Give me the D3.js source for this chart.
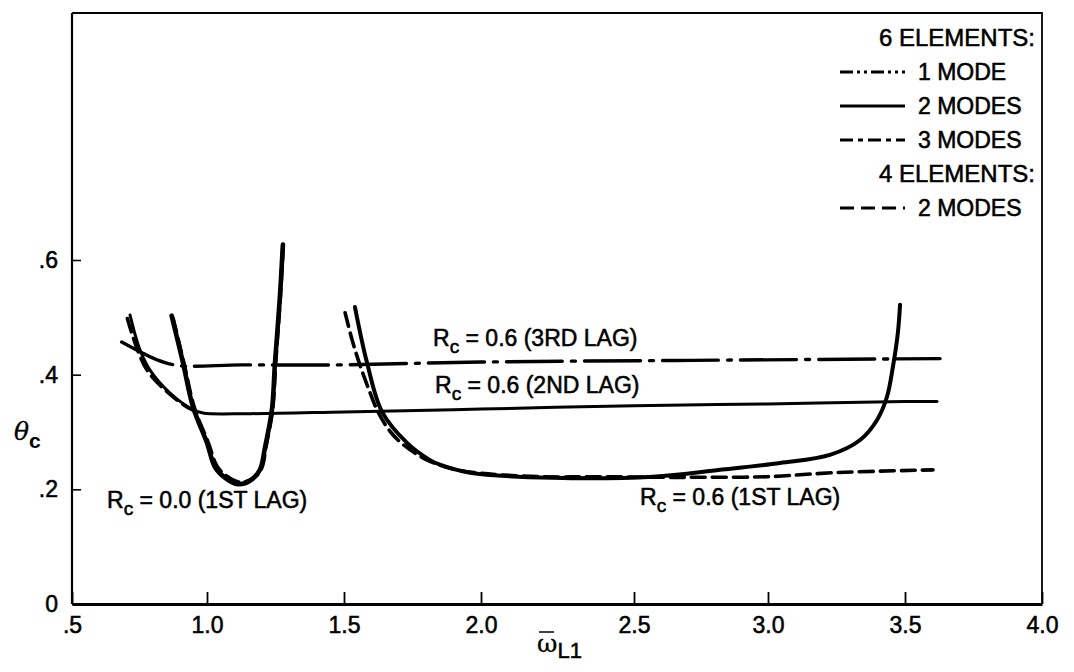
<!DOCTYPE html>
<html>
<head>
<meta charset="utf-8">
<script src="https://cdn.jsdelivr.net/npm/d3@7"></script>
<style>
  body { margin: 0; background: #fff; }
  text { font-family: "Liberation Sans", Arial, Helvetica, sans-serif; fill: #000; stroke: #000; stroke-width: 0.55px; }
</style>
</head>
<body>
<svg id="chart"></svg>
<script>
// Axis ticks and labels
const xTicks = [0.5, 1.0, 1.5, 2.0, 2.5, 3.0, 3.5, 4.0];
const xTickLabels = [".5", "1.0", "1.5", "2.0", "2.5", "3.0", "3.5", "4.0"];
const yTicks = [0, 0.2, 0.4, 0.6];
const yTickLabels = ["0", ".2", ".4", ".6"];

// R_c = 0.0 (1st lag), 6 elements, 2 modes
const r0Lag1X = [0.869, 0.911, 0.948, 1.0, 1.029, 1.066, 1.113, 1.157, 1.193, 1.212, 1.237, 1.248, 1.266, 1.277];
const r0Lag1Y = [0.503, 0.421, 0.344, 0.281, 0.239, 0.220, 0.209, 0.215, 0.234, 0.274, 0.339, 0.420, 0.535, 0.627];
// R_c = 0.0 (1st lag), 4 elements, 2 modes
const r0Lag1E4X = [0.874, 0.915, 0.953, 1.005, 1.036, 1.074, 1.12, 1.165, 1.198, 1.215, 1.239, 1.250, 1.267, 1.277];
const r0Lag1E4Y = [0.498, 0.418, 0.342, 0.280, 0.240, 0.222, 0.212, 0.218, 0.236, 0.275, 0.340, 0.420, 0.535, 0.620];

// R_c = 0.6 (2nd lag), 6 elements, 2 modes
const r6Lag2X = [0.715, 0.752, 0.789, 0.863, 0.948, 0.985, 1.157, 1.5, 2.0, 2.5, 3.0, 3.5, 3.617];
const r6Lag2Y = [0.504, 0.443, 0.408, 0.368, 0.339, 0.333, 0.332, 0.335, 0.340, 0.346, 0.349, 0.353, 0.353];
// R_c = 0.6 (2nd lag), 4 elements, 2 modes
const r6Lag2E4X = [0.705, 0.742, 0.782, 0.855, 0.935, 0.98];
const r6Lag2E4Y = [0.498, 0.444, 0.405, 0.369, 0.341, 0.334];

// R_c = 0.6 (3rd lag), 6 elements, 3 modes
const r6Lag3X = [0.684, 0.752, 0.814, 0.893, 1.126, 1.46, 2.0, 2.72, 3.628];
const r6Lag3Y = [0.457, 0.440, 0.426, 0.416, 0.417, 0.417, 0.422, 0.425, 0.428];

// R_c = 0.6 (1st lag), 6 elements, 2 modes
const r6Lag1X = [1.540, 1.584, 1.639, 1.730, 1.814, 1.850, 1.960, 2.235, 2.571, 2.821, 3.044, 3.226, 3.336, 3.398, 3.434, 3.456, 3.474, 3.482];
const r6Lag1Y = [0.518, 0.421, 0.335, 0.281, 0.251, 0.243, 0.229, 0.220, 0.222, 0.234, 0.246, 0.260, 0.286, 0.321, 0.361, 0.414, 0.473, 0.522];
// R_c = 0.6 (1st lag), 4 elements, 2 modes
const r6Lag1E4X = [1.504, 1.530, 1.558, 1.590, 1.624, 1.670, 1.719, 1.800, 1.900, 2.000, 2.200, 2.388, 2.600, 2.746, 2.996, 3.238, 3.602];
const r6Lag1E4Y = [0.508, 0.460, 0.417, 0.375, 0.335, 0.300, 0.277, 0.252, 0.235, 0.228, 0.222, 0.222, 0.221, 0.221, 0.222, 0.229, 0.234];

// Legend
const legendHeaders = ["6 ELEMENTS:", "4 ELEMENTS:"];
const legendItems = ["1 MODE", "2 MODES", "3 MODES", "2 MODES"];
const legendKeys = ["mode1", "mode2", "mode3", "elem4"];

const W = 1074, H = 672;
const fontSize = 23;

const dashes = {
  mode1: "13,4,3,4,3,4",
  mode2: null,
  mode3: "13,5,5,5",
  elem4: "14,7",
  lag3: "56,9,4,9"
};

const svg = d3.select("#chart").attr("width", W).attr("height", H);

// Scales (the scanned original has uneven tick spacing)
const x = d3.scaleLinear()
  .domain(xTicks)
  .range([72, 207, 344, 481, 634, 768, 905, 1042]);
const y = d3.scaleLinear().domain([0, 0.6]).range([604, 260]);
const frameTop = 13;

// Frame: top and right
svg.append("path")
  .attr("d", `M${x(0.5)},${frameTop}H${x(4.0)}V${y(0)}`)
  .attr("fill", "none")
  .attr("stroke", "#000")
  .attr("stroke-width", 1.8);

// X axis
const xAxis = svg.append("g")
  .attr("transform", `translate(0,${y(0)})`)
  .call(d3.axisBottom(x)
    .tickValues(xTicks)
    .tickFormat((d, i) => xTickLabels[i])
    .tickSize(-12)
    .tickSizeOuter(0)
    .tickPadding(13));
xAxis.select(".domain").attr("stroke-width", 2.8);
xAxis.selectAll(".tick line").attr("stroke-width", 1.8);
xAxis.selectAll(".tick text").attr("font-size", fontSize).attr("font-family", null);

// Y axis
const yAxis = svg.append("g")
  .attr("transform", `translate(${x(0.5)},0)`)
  .call(d3.axisLeft(y)
    .tickValues(yTicks)
    .tickFormat((d, i) => yTickLabels[i])
    .tickSize(-9)
    .tickSizeOuter(0)
    .tickPadding(14));
yAxis.select(".domain").attr("d", `M0,${frameTop}V${y(0)}`).attr("stroke-width", 2.2);
yAxis.selectAll(".tick line").attr("stroke-width", 1.6);
yAxis.selectAll(".tick text").attr("font-size", fontSize).attr("font-family", null);

// Curves
const line = d3.line()
  .x(d => x(d[0]))
  .y(d => y(d[1]))
  .curve(d3.curveCatmullRom.alpha(0.5));

const zip = (xs, ys) => xs.map((v, i) => [v, ys[i]]);

const curves = [
  { data: zip(r0Lag1E4X, r0Lag1E4Y), dash: dashes.elem4, w: 4 },
  { data: zip(r0Lag1X, r0Lag1Y), dash: null, w: 4.6 },
  { data: zip(r6Lag2E4X, r6Lag2E4Y), dash: dashes.elem4, w: 3.6 },
  { data: zip(r6Lag2X, r6Lag2Y), dash: null, w: 3 },
  { data: zip(r6Lag3X, r6Lag3Y), dash: dashes.lag3, w: 3.4 },
  { data: zip(r6Lag1E4X, r6Lag1E4Y), dash: dashes.elem4, w: 3.6 },
  { data: zip(r6Lag1X, r6Lag1Y), dash: null, w: 4 }
];

svg.append("g").selectAll("path")
  .data(curves)
  .join("path")
  .attr("d", d => line(d.data))
  .attr("fill", "none")
  .attr("stroke", "#000")
  .attr("stroke-width", d => d.w)
  .attr("stroke-linecap", "round")
  .attr("stroke-dasharray", d => d.dash);

// Curve labels
function rcLabel(px, py, rest) {
  const t = svg.append("text").attr("x", px).attr("y", py).attr("font-size", fontSize);
  t.append("tspan").text("R");
  t.append("tspan").attr("font-size", 19).attr("dy", 7).text("c");
  t.append("tspan").attr("dy", -7).text(" = " + rest);
}
rcLabel(433, 346, "0.6 (3RD LAG)");
rcLabel(435, 393, "0.6 (2ND LAG)");
rcLabel(107, 508, "0.0 (1ST LAG)");
rcLabel(640, 505, "0.6 (1ST LAG)");

// Axis titles
const yt = svg.append("text").attr("x", 14).attr("y", 440).attr("font-size", 25);
yt.append("tspan").attr("font-family", "DejaVu Serif").attr("font-style", "italic").attr("stroke-width", 0.3).text("θ");
yt.append("tspan").attr("font-size", 21).attr("font-weight", "bold").attr("stroke-width", 0).attr("dy", 8).text("c");

const xt = svg.append("text").attr("x", 537).attr("y", 652).attr("font-size", 25);
xt.append("tspan").attr("font-family", "DejaVu Serif").attr("stroke-width", 0.3).text("ω");
xt.append("tspan").attr("font-size", 22).attr("dy", 6).text("L1");
svg.append("line")
  .attr("x1", 539).attr("x2", 554)
  .attr("y1", 632).attr("y2", 632)
  .attr("stroke", "#000").attr("stroke-width", 1.5);

// Legend
const legRowY = [38, 72, 106, 140, 174, 208];
const legX1 = 840, legX2 = 905, legTextX = 918, legRight = 1035;
const legend = svg.append("g");
legend.selectAll("text.header")
  .data(legendHeaders)
  .join("text")
  .attr("class", "header")
  .attr("x", legRight)
  .attr("y", (d, i) => legRowY[i * 4] + 8)
  .attr("text-anchor", "end")
  .attr("font-size", 24)
  .text(d => d);

const itemRows = [1, 2, 3, 5];
legend.selectAll("line")
  .data(legendKeys)
  .join("line")
  .attr("x1", legX1).attr("x2", legX2)
  .attr("y1", (d, i) => legRowY[itemRows[i]])
  .attr("y2", (d, i) => legRowY[itemRows[i]])
  .attr("stroke", "#000")
  .attr("stroke-width", 3)
  .attr("stroke-dasharray", d => dashes[d]);
legend.selectAll("text.item")
  .data(legendItems)
  .join("text")
  .attr("class", "item")
  .attr("x", legTextX)
  .attr("y", (d, i) => legRowY[itemRows[i]] + 8)
  .attr("font-size", fontSize)
  .text(d => d);
</script>
</body>
</html>
